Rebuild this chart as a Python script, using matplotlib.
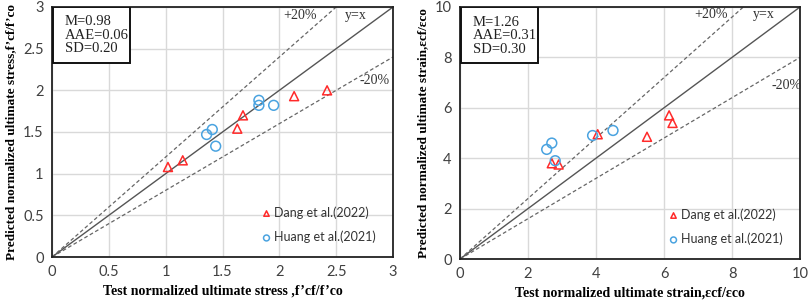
import matplotlib.pyplot as plt
import numpy as np
from matplotlib import rcParams
from matplotlib.patches import Rectangle

rcParams['font.family'] = 'sans-serif'
rcParams['font.sans-serif'] = ['Lato', 'DejaVu Sans']

# stress panel data
stress_dang_x = [1.02, 1.15, 1.63, 1.68, 2.13, 2.42]
stress_dang_y = [1.08, 1.16, 1.54, 1.70, 1.93, 2.00]
stress_huang_x = [1.36, 1.41, 1.44, 1.82, 1.82, 1.95]
stress_huang_y = [1.47, 1.53, 1.33, 1.88, 1.82, 1.82]
stress_stats = ['M=0.98', 'AAE=0.06', 'SD=0.20']
stress_ticks = [0, 0.5, 1, 1.5, 2, 2.5, 3]
stress_ticklabels = ['0', '0.5', '1', '1.5', '2', '2.5', '3']

# strain panel data
strain_dang_x = [2.7, 2.9, 4.05, 5.5, 6.15, 6.25]
strain_dang_y = [3.8, 3.75, 4.95, 4.85, 5.7, 5.4]
strain_huang_x = [2.55, 2.7, 2.8, 3.9, 4.5]
strain_huang_y = [4.35, 4.6, 3.9, 4.9, 5.1]
strain_stats = ['M=1.26', 'AAE=0.31', 'SD=0.30']
strain_ticks = [0, 2, 4, 6, 8, 10]
strain_ticklabels = ['0', '2', '4', '6', '8', '10']

serif = ['Liberation Serif', 'DejaVu Serif']

fig = plt.figure(figsize=(8.09, 3.04), dpi=100)

panels = [
    dict(pos=[0.0643, 0.1546, 0.4215, 0.8224], vmax=3,
         dx=stress_dang_x, dy=stress_dang_y, hx=stress_huang_x, hy=stress_huang_y,
         stats=stress_stats, ticks=stress_ticks, labels=stress_ticklabels,
         xlabel="Test normalized ultimate stress ,f\u2019cf/f\u2019co",
         ylabel="Predicted normalized ultimate stress,f\u2019cf/f\u2019co",
         p20=(2.18, 2.90), yx=(2.67, 2.90), m20=(2.84, 2.12)),
    dict(pos=[0.5686, 0.1480, 0.4203, 0.8290], vmax=10,
         dx=strain_dang_x, dy=strain_dang_y, hx=strain_huang_x, hy=strain_huang_y,
         stats=strain_stats, ticks=strain_ticks, labels=strain_ticklabels,
         xlabel="Test normalized ultimate strain,\u03b5cf/\u03b5co",
         ylabel="Predicted normalized ultimate strain,\u03b5cf/\u03b5co",
         p20=(7.37, 9.70), yx=(8.94, 9.70), m20=(9.6, 6.9)),
]

for p in panels:
    ax = fig.add_axes(p['pos'])
    v = p['vmax']
    line = np.array([0, v])

    # reference lines
    ax.plot(line, line, color='#555555', linewidth=1.0, zorder=2)
    ax.plot(line, 1.2 * line, color='#666666', linewidth=0.9, linestyle=(0, (3, 2)), zorder=2)
    ax.plot(line, 0.8 * line, color='#666666', linewidth=0.9, linestyle=(0, (3, 2)), zorder=2)

    ax.scatter(p['dx'], p['dy'], marker='^', s=42, facecolors='none',
               edgecolors='#ff2a2a', linewidths=1.1, label='Dang et al.(2022)', zorder=3)
    ax.scatter(p['hx'], p['hy'], marker='o', s=50, facecolors='none',
               edgecolors='#4aa3e0', linewidths=1.1, label='Huang et al.(2021)', zorder=3)

    ax.set_xlim(0, v)
    ax.set_ylim(0, v)
    ax.set_xticks(p['ticks'])
    ax.set_yticks(p['ticks'])
    ax.set_xticklabels(p['labels'])
    ax.set_yticklabels(p['labels'])
    ax.tick_params(length=0, labelsize=10.5, labelcolor='#404040', pad=6)
    ax.grid(True, color='#d9d9d9', linewidth=1.0, zorder=0)
    ax.set_axisbelow(True)

    for side in ['top', 'right', 'left', 'bottom']:
        ax.spines[side].set_color('#222222')
        ax.spines[side].set_linewidth(1.3)

    ax.set_xlabel(p['xlabel'], family=serif, fontweight='bold', fontsize=10, labelpad=4)
    ax.set_ylabel(p['ylabel'], family=serif, fontweight='bold', fontsize=9.5, labelpad=4)

    ax.text(p['p20'][0], p['p20'][1], '+20%', family=serif, fontsize=10,
            color='#333333', ha='center', va='center')
    ax.text(p['yx'][0], p['yx'][1], 'y=x', family=serif, fontsize=10,
            color='#333333', ha='center', va='center')
    ax.text(p['m20'][0], p['m20'][1], '-20%', family=serif, fontsize=10,
            color='#333333', ha='center', va='center')

    # statistics box in the top-left corner
    ax.add_patch(Rectangle((0.003, 0.776), 0.226, 0.224, transform=ax.transAxes,
                           facecolor='white', edgecolor='#111111', linewidth=1.4, zorder=4))
    for i, s in enumerate(p['stats']):
        ax.text(0.038, 0.94 - i * 0.054, s, transform=ax.transAxes, family=serif,
                fontsize=10.5, color='#222222', va='center', ha='left', zorder=5)

    ax.legend(loc='lower right', bbox_to_anchor=(0.975, 0.02), frameon=False,
              fontsize=9, handletextpad=0.1, labelspacing=0.95, markerscale=0.6,
              borderaxespad=0.3, handlelength=1.0, labelcolor='#333333')

fig.savefig('out.png', dpi=100)
